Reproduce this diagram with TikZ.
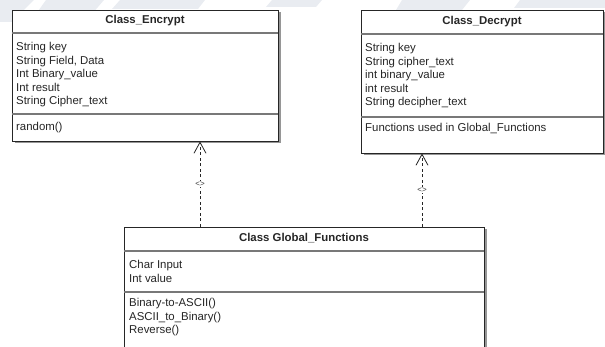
\documentclass[tikz,border=0pt]{standalone}
\usepackage{fontspec}
\setmainfont{Liberation Sans}
\usetikzlibrary{arrows.meta,shadows}

\definecolor{wmark}{RGB}{233,236,241}
\definecolor{sepline}{RGB}{120,120,120}
\definecolor{shade}{RGB}{150,150,150}

\tikzset{
  classbox/.style={draw=black!85, line width=0.9pt, fill=white, inner sep=0pt,
    drop shadow={shadow xshift=2.5pt, shadow yshift=-2.5pt, fill=shade, opacity=1}},
  divider/.style={draw=sepline, line width=1.3pt},
  boxtitle/.style={font=\fontsize{11.4}{13.4}\selectfont\bfseries, text=black!85, inner sep=0pt},
  members/.style={font=\fontsize{11.4}{13.4}\selectfont, text=black!85, align=left,
    inner sep=0pt, anchor=north west},
  dependency/.style={draw=black!85, line width=0.8pt, dash pattern=on 3pt off 2.5pt,
    -{Straight Barb[length=11pt, width=12pt, line width=0.8pt]}},
  stereo/.style={font=\fontsize{8}{8}\selectfont, text=black!75, fill=white, inner sep=0.6pt}
}

\begin{document}
\begin{tikzpicture}[x=1pt, y=-1pt]
\useasboundingbox (0,0) rectangle (605,347);
\clip (0,0) rectangle (605,347);

% faint background watermark bands
\fill[wmark] (0,0) -- (34,0) -- (12,22) -- (0,22) -- cycle;
\fill[wmark] (46,0) -- (104,0) -- (92,14) -- (36,14) -- cycle;
\fill[wmark] (120,0) -- (205,0) -- (198,9) -- (112,9) -- cycle;
\fill[wmark] (272,0) -- (322,0) -- (316,7) -- (266,7) -- cycle;
\fill[wmark] (402,0) -- (470,0) -- (462,10) -- (396,10) -- cycle;
\fill[wmark] (520,0) -- (605,0) -- (605,8) -- (514,8) -- cycle;

% Class_Encrypt
\node[classbox, minimum width=266pt, minimum height=131pt] (enc) at (145,75.5) {};
\draw[divider] (enc.west |- 0,33) -- (enc.east |- 0,33);
\draw[divider] (enc.west |- 0,114) -- (enc.east |- 0,114);
\node[boxtitle] (enc-title) at (145,21) {Class\_Encrypt};
\node[members] (enc-attr) at (16,42.5) {String key\\String Field, Data\\Int Binary\_value\\Int result\\String Cipher\_text};
\node[members] (enc-ops) at (16,122.5) {random()};

% Class_Decrypt
\node[classbox, minimum width=242pt, minimum height=143pt] (dec) at (482,81.5) {};
\draw[divider] (dec.west |- 0,34) -- (dec.east |- 0,34);
\draw[divider] (dec.west |- 0,117) -- (dec.east |- 0,117);
\node[boxtitle] (dec-title) at (482,21.5) {Class\_Decrypt};
\node[members] (dec-attr) at (365,43.5) {String key\\String cipher\_text\\int binary\_value\\int result\\String decipher\_text};
\node[members] (dec-ops) at (365,123.5) {Functions used in Global\_Functions};

% Class Global_Functions
\node[classbox, minimum width=360pt, minimum height=160pt] (glob) at (304,307) {};
\draw[divider] (glob.west |- 0,251) -- (glob.east |- 0,251);
\draw[divider] (glob.west |- 0,292) -- (glob.east |- 0,292);
\node[boxtitle] (glob-title) at (304,238) {Class Global\_Functions};
\node[members] (glob-attr) at (129,260.5) {Char Input\\Int value};
\node[members] (glob-ops) at (129,298.5) {Binary-to-ASCII()\\ASCII\_to\_Binary()\\Reverse()};

% dependencies from the global class to the two user classes
\draw[dependency] (glob.north -| 200,0) -- (enc.south -| 200,0)
  node[stereo, pos=0.5] (dep-enc) {<>};
\draw[dependency] (glob.north -| 422,0) -- (dec.south -| 422,0)
  node[stereo, pos=0.5] (dep-dec) {<>};
\end{tikzpicture}
\end{document}
